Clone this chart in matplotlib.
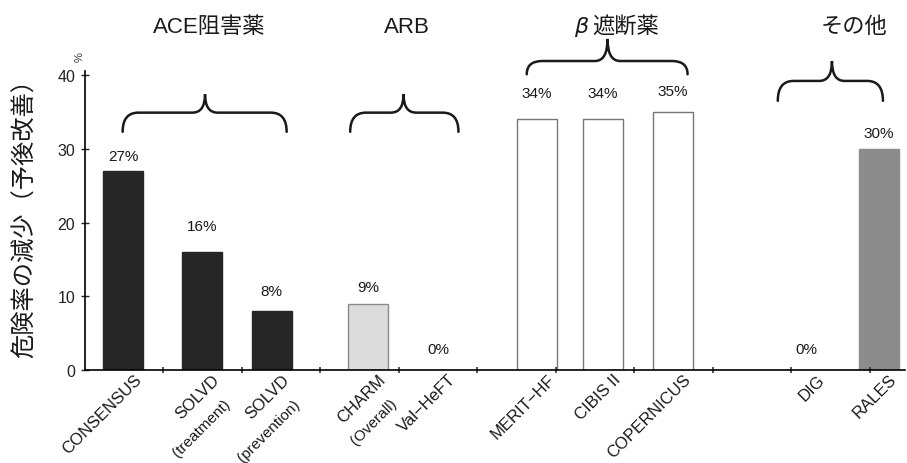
import numpy as np
import matplotlib
matplotlib.use("Agg")
import matplotlib.pyplot as plt
from matplotlib.path import Path
from matplotlib.patches import PathPatch
from matplotlib.transforms import ScaledTranslation

plt.rcParams['font.family'] = ['Liberation Sans', 'Noto Sans CJK JP', 'DejaVu Sans']

# trials and risk reduction (%)
trials = ["CONSENSUS", "SOLVD\n(treatment)", "SOLVD\n(prevention)",
          "CHARM\n(Overall)", "Val−HeFT",
          "MERIT−HF", "CIBIS II", "COPERNICUS",
          "DIG", "RALES"]
reduction = [27, 16, 8, 9, 0, 34, 34, 35, 0, 30]
drug_class = ["ace", "ace", "ace", "arb", "arb",
              "beta", "beta", "beta", "other", "other"]

groups = ["ACE阻害薬", "ARB", "β 遮断薬", "その他"]

# layout: bar centres on a slot axis (one slot per category tick)
xpos = [0.49, 1.49, 2.38, 3.61, 4.5, 5.76, 6.6, 7.49, 9.2, 10.12]
label_dy = [2.0, 3.5, 2.7, 2.3, 2.85, 3.6, 3.6, 2.8, 2.85, 2.2]
group_x = [1.58, 4.10, 6.57, 9.80]

face = {"ace": "#262626", "arb": "#dcdcdc", "beta": "white", "other": "#8c8c8c"}
edge = {"ace": "#262626", "arb": "#8a8a8a", "beta": "#777777", "other": "#8c8c8c"}

fig = plt.figure(figsize=(9.07, 4.64), dpi=100)
ax = fig.add_axes([0.0937, 0.2004, 0.904, 0.6437])

for x, v, c in zip(xpos, reduction, drug_class):
    ax.bar(x, v, width=0.51, color=face[c], edgecolor=edge[c], linewidth=1.0)

for x, v, dy in zip(xpos, reduction, label_dy):
    ax.text(x, v + dy, f"{v}%", ha="center", va="center", fontsize=11,
            color="#1a1a1a")

ax.set_xlim(0, 10.45)
ax.set_ylim(0, 40.5)
ax.set_yticks([0, 10, 20, 30, 40])
ax.tick_params(axis="y", direction="inout", length=6, width=1, labelsize=11.5,
               pad=4, colors="#222222")

# first line of each trial name as tick label, second line drawn separately
first = [t.split("\n")[0] for t in trials]
ax.set_xticks(xpos)
ax.set_xticklabels(first, rotation=45, ha="right", va="top",
                   rotation_mode="anchor", fontsize=12, color="#1a1a1a")
ax.set_xticks(np.arange(1, 11), minor=True)
ax.tick_params(axis="x", which="major", length=0, pad=1)
ax.tick_params(axis="x", which="minor", direction="inout", length=5, width=1.2,
               colors="#333333")
shift = ScaledTranslation(10 / 100, 0, fig.dpi_scale_trans)
for lab in ax.get_xticklabels():
    lab.set_transform(lab.get_transform() + shift)

for x, t in zip(xpos, trials):
    if "\n" not in t:
        continue
    ax.annotate(t.split("\n")[1], xy=(x, 0), xycoords="data",
                xytext=(21, -26), textcoords="offset pixels",
                rotation=45, ha="right", va="top", rotation_mode="anchor",
                fontsize=11, color="#1a1a1a", annotation_clip=False)

for side in ("top", "right"):
    ax.spines[side].set_visible(False)
ax.spines["left"].set_linewidth(1.2)
ax.spines["bottom"].set_linewidth(1.2)


def brace(x0, x1, xp, y_end, y_h, y_peak, r=0.2, r2=0.16):
    verts = [(x0, y_end), (x0, y_h), (x0 + r, y_h),
             (xp - r2, y_h),
             (xp, y_h), (xp, y_peak),
             (xp, y_h), (xp + r2, y_h),
             (x1 - r, y_h),
             (x1, y_h), (x1, y_end)]
    codes = [Path.MOVETO, Path.CURVE3, Path.CURVE3,
             Path.LINETO,
             Path.CURVE3, Path.CURVE3,
             Path.CURVE3, Path.CURVE3,
             Path.LINETO,
             Path.CURVE3, Path.CURVE3]
    ax.add_patch(PathPatch(Path(verts, codes), fill=False, lw=1.8,
                           edgecolor="#1a1a1a", clip_on=False, capstyle="round"))


brace(0.48, 2.57, 1.53, 32.3, 34.9, 37.4)
brace(3.38, 4.76, 4.06, 32.3, 34.9, 37.4)
brace(5.63, 7.68, 6.66, 40.1, 41.9, 44.9)
brace(8.83, 10.17, 9.52, 36.5, 39.2, 41.9)

for g, gx in zip(groups, group_x):
    if g.startswith("β"):
        # italic beta in front of the kanji
        ax.text(gx - 0.16, 46.6, "β", ha="right", va="center", fontsize=16,
                style="italic", family="DejaVu Sans", color="#1a1a1a",
                clip_on=False)
        ax.text(gx - 0.1, 46.6, g[1:].strip(), ha="left", va="center",
                fontsize=16, color="#1a1a1a", clip_on=False)
    else:
        ax.text(gx, 46.6, g, ha="center", va="center", fontsize=16,
                color="#1a1a1a", clip_on=False)

fig.text(25 / 907, 1 - 212 / 464, "危険率の減少（予後改善）", rotation=90,
         ha="center", va="center", fontsize=17.5, color="#1a1a1a")
fig.text(80 / 907, 1 - 57 / 464, "%", rotation=90, ha="center", va="center",
         fontsize=8, color="#333333")

fig.savefig("out.png", dpi=100)
